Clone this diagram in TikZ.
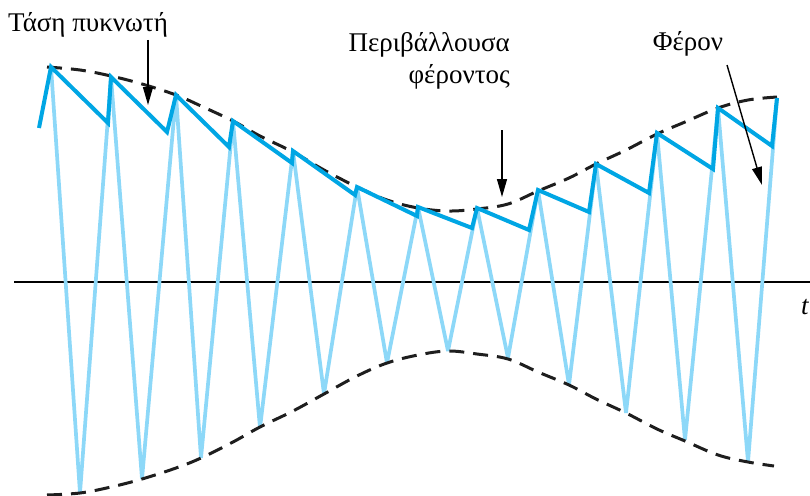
\documentclass[tikz,border=0pt]{standalone}
\usepackage{fontspec}
\setmainfont{Liberation Serif}
\usetikzlibrary{arrows.meta}
\definecolor{carrier}{RGB}{141,216,248}
\definecolor{capv}{RGB}{0,166,228}
\definecolor{envc}{RGB}{30,30,30}
\begin{document}
\begin{tikzpicture}[x=1pt,y=-1pt,
  envline/.style={draw=envc,line width=3pt,dash pattern=on 15pt off 9pt},
  carrierline/.style={draw=carrier,line width=3.7pt,line join=miter,miter limit=2.2},
  capline/.style={draw=capv,line width=4pt,line join=miter,miter limit=2.5},
  axisline/.style={draw=black,line width=1.6pt},
  lbl/.style={font=\fontsize{27}{32}\selectfont,inner sep=0pt},
  pointer/.style={draw=black,line width=1.4pt,-{Triangle[length=18pt,width=10pt]}}]
\useasboundingbox (0,0) rectangle (810,495);
% time axis
\coordinate (axL) at (14,281.7);
\coordinate (axR) at (812,281.7);
\draw[axisline] (axL) -- (axR);
\node[lbl,anchor=base west,font=\fontsize{27}{32}\selectfont\itshape] (tl) at (801,314) {t};
% carrier
\draw[carrierline] plot coordinates {(51,67) (80,493) (111,77) (142,479) (176,95) (201,458)
  (233,121) (260,428) (293,151) (324,394) (357,187) (387,363) (418,207) (448,351)
  (477,208) (508,358) (538,190) (569,385) (596,164) (626,413) (657,133) (685,440)
  (718,108) (748,462) (777,98)};
% envelopes
\draw[envline] plot[smooth,tension=0.6] coordinates {(47,67) (80,70) (111,76) (142,84) (176,95)
  (201,106) (233,121) (260,136) (293,152) (324,170) (357,187) (387,200) (418,208)
  (448,211) (477,209) (508,204) (538,191) (569,178) (596,164) (626,150) (657,134)
  (685,122) (718,108) (748,100) (777,97)};
\draw[envline] plot[smooth,tension=0.6] coordinates {(47,495) (80,493) (111,487) (142,479)
  (176,468) (201,458) (233,442) (260,427) (293,411) (324,394) (357,376) (387,363)
  (418,355) (448,351) (477,354) (508,359) (538,372) (569,385) (596,399) (626,413)
  (657,429) (685,441) (718,455) (748,462) (774,466)};
% capacitor voltage
\draw[capline] plot coordinates {(39,128) (51,67) (108,123) (111,77) (167,132) (176,95)
  (229,147) (233,121) (292,163) (293,151) (355,195) (357,187) (417,216) (418,207)
  (472,228) (477,208) (529,230) (538,190) (589,212) (596,164) (649,193) (657,133)
  (713,169) (718,108) (772,146) (777,98)};
% labels
\node[lbl,anchor=base] (capl) at (88,32) {Τάση πυκνωτή};
\node[lbl,anchor=base east,align=right] (envl) at (510,83) {Περιβάλλουσα\\φέροντος};
\node[lbl,anchor=base] (carl) at (688,51) {Φέρον};
\coordinate (capa) at (148,40);
\coordinate (capt) at (148,105);
\coordinate (enva) at (502,130);
\coordinate (envt) at (502,197);
\coordinate (cara) at (727,65);
\coordinate (cart) at (762,185);
\draw[pointer] (capa) -- (capt);
\draw[pointer] (enva) -- (envt);
\draw[pointer] (cara) -- (cart);
\end{tikzpicture}
\end{document}
